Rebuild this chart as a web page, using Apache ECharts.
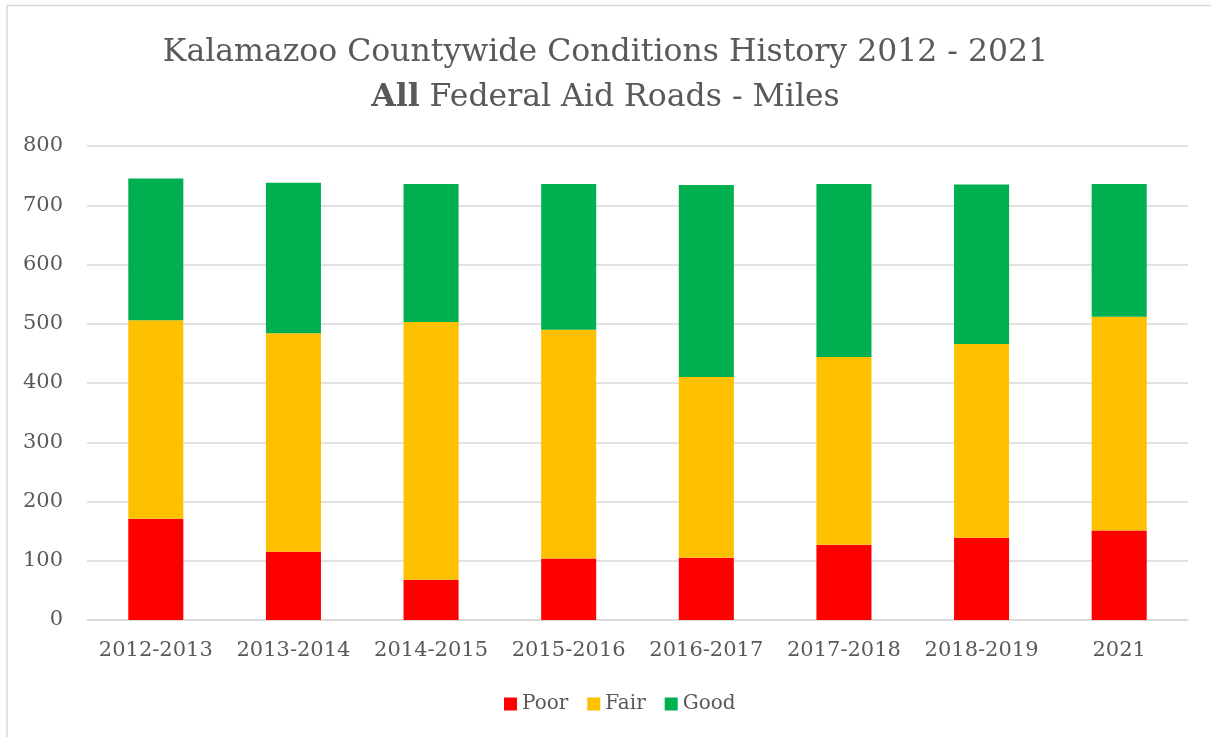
<!DOCTYPE html>
<html>
<head>
<meta charset="UTF-8">
<title>Kalamazoo Countywide Conditions History</title>
<script type="text/javascript" src="https://cdn.jsdelivr.net/npm/echarts@6/dist/echarts.min.js"></script>
<style>
  html, body { margin: 0; padding: 0; background: #fff; }
</style>
</head>
<body>
	<!-- chart container -->
	<div id="main" style="width:1211px;height:737px"></div>
	<script type="text/javascript">
	// categories (x axis)
	var years = ['2012-2013', '2013-2014', '2014-2015', '2015-2016', '2016-2017', '2017-2018', '2018-2019', '2021'];
	// miles by condition
	var poor = [171, 115, 68, 104, 105, 127, 139, 151];
	var fair = [335, 369, 435, 386, 305, 317, 327, 361];
	var good = [239, 254, 233, 246, 324, 292, 269, 224];

	var font = 'DejaVu Serif';
	var grey = '#595959';

	var myEchart = echarts.init(document.getElementById('main'));

	var option = {
		animation: false,
		// outer chart border (left and top edges are the visible ones)
		graphic: [{
			type: 'polyline',
			shape: { points: [[7, 760], [7, 5.5], [1230, 5.5]] },
			style: { stroke: '#d9d9d9', lineWidth: 1.5, fill: null }
		}],
		title: {
			text: 'Kalamazoo Countywide Conditions History 2012 - 2021\n{b|All} Federal Aid Roads - Miles',
			left: 'center',
			top: 25,
			textStyle: {
				fontFamily: font,
				fontSize: 31.5,
				fontWeight: 'normal',
				color: grey,
				lineHeight: 45,
				rich: {
					b: { fontFamily: font, fontSize: 31.5, fontWeight: 'bold', color: grey, lineHeight: 45 }
				}
			}
		},
		legend: {
			data: ['Poor', 'Fair', 'Good'],
			bottom: 18,
			left: 499,
			icon: 'rect',
			itemWidth: 13,
			itemHeight: 13,
			itemGap: 19,
			textStyle: { fontFamily: font, fontSize: 20, color: grey }
		},
		grid: { left: 87, right: 23, top: 146, bottom: 117 },
		xAxis: {
			type: 'category',
			data: years,
			axisLine: { lineStyle: { color: '#d9d9d9', width: 1.5 } },
			axisTick: { show: false },
			axisLabel: { fontFamily: font, fontSize: 21, color: grey, margin: 20, interval: 0 }
		},
		yAxis: {
			type: 'value',
			min: 0,
			max: 800,
			interval: 100,
			axisLine: { show: false },
			axisTick: { show: false },
			splitLine: { lineStyle: { color: '#d9d9d9', width: 1.5 } },
			axisLabel: { fontFamily: font, fontSize: 21, color: grey, margin: 24 }
		},
		series: [
			{ name: 'Poor', type: 'bar', stack: 'total', data: poor, barWidth: '40%', itemStyle: { color: '#ff0000' } },
			{ name: 'Fair', type: 'bar', stack: 'total', data: fair, barWidth: '40%', itemStyle: { color: '#ffc000' } },
			{ name: 'Good', type: 'bar', stack: 'total', data: good, barWidth: '40%', itemStyle: { color: '#00b050' } }
		]
	};

	myEchart.setOption(option);
	</script>
</body>
</html>
